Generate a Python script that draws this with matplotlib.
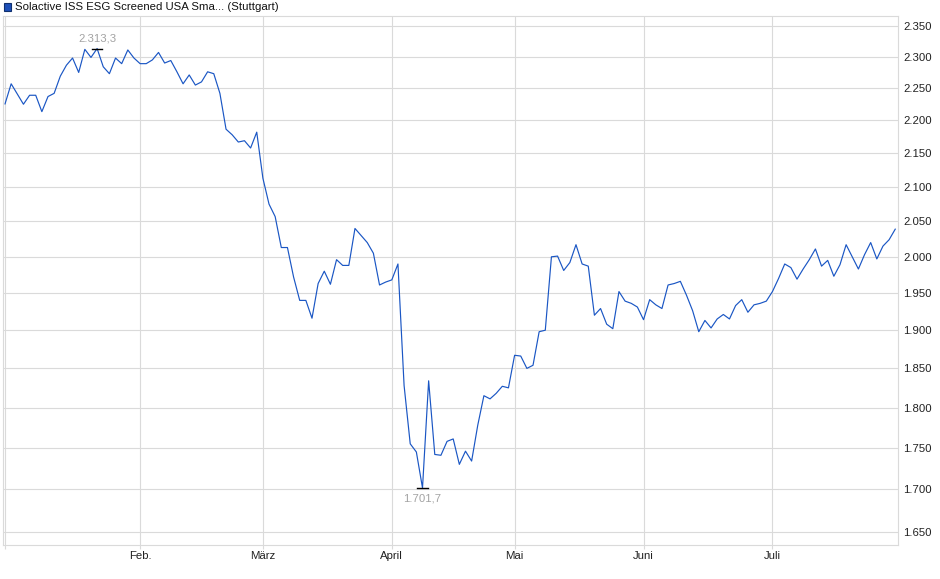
import numpy as np
import matplotlib
matplotlib.use("Agg")
import matplotlib.pyplot as plt
from matplotlib.patches import Rectangle
from matplotlib.ticker import FixedLocator, FuncFormatter, NullLocator

plt.rcParams['font.family'] = ['Liberation Sans', 'DejaVu Sans']

# daily closes (trading days, Jan 2 .. end of July)
values = [
    2225.5, 2257, 2241, 2225, 2239, 2239, 2213.5, 2237, 2242, 2269,
    2286.5, 2298, 2275, 2312, 2299, 2313.3, 2284, 2273, 2298, 2289,
    2311, 2298, 2289, 2289, 2295, 2307, 2290, 2294, 2276, 2257,
    2271, 2255, 2260, 2276, 2273, 2242, 2186.5, 2178, 2167, 2169,
    2158, 2182, 2113, 2075, 2057, 2013, 2013, 1972, 1940, 1940,
    1916, 1963, 1980, 1962, 1996, 1988, 1988, 2040, 2030, 2020,
    2005, 1961, 1965, 1968, 1990, 1828, 1755, 1745, 1701.7, 1834,
    1742, 1741, 1758, 1761, 1730, 1746, 1734, 1778, 1815, 1811,
    1818, 1827, 1825, 1867, 1866, 1850, 1854, 1898, 1900, 2000,
    2001, 1981, 1992, 2017, 1990, 1987, 1920, 1929, 1908, 1902,
    1952, 1939, 1936, 1931, 1914, 1941, 1934, 1929, 1961, 1963,
    1966, 1947, 1926, 1898, 1913, 1903, 1915, 1921, 1915, 1933,
    1941, 1924, 1934, 1936, 1939, 1952, 1970, 1990, 1985, 1969,
    1983, 1996, 2011, 1987, 1995, 1973, 1989, 2017, 2000, 1983,
    2003, 2020, 1997, 2015, 2024, 2039,
]

month_labels = ['Feb.', 'März', 'April', 'Mai', 'Juni', 'Juli']
month_index = [22, 42, 63, 83, 104, 125]   # first trading day of each month
y_ticks = [1650, 1700, 1750, 1800, 1850, 1900, 1950, 2000, 2050, 2100,
           2150, 2200, 2250, 2300, 2350]
title = 'Solactive ISS ESG Screened USA Sma... (Stuttgart)'

line_color = '#1a56c4'
grid_color = '#dadada'


def de_int(v, pos=None):
    return f'{v:,.0f}'.replace(',', '.')


def de_dec(v):
    return f'{v:,.1f}'.replace(',', '#').replace('.', ',').replace('#', '.')


W, H = 940, 579
fig = plt.figure(figsize=(W / 100, H / 100), dpi=100)
ax = fig.add_axes([3 / W, (H - 545) / H, 895 / W, 529 / H])

x = np.arange(len(values))
ax.plot(x, values, color=line_color, lw=0.85)

ax.set_yscale('log')
ax.set_ylim(1635.2, 2366.5)
ax.set_xlim(-0.33, 145.45)

ax.yaxis.set_major_locator(FixedLocator(y_ticks))
ax.yaxis.set_major_formatter(FuncFormatter(de_int))
ax.yaxis.set_minor_locator(NullLocator())
ax.yaxis.tick_right()
ax.tick_params(axis='y', length=0, pad=4, labelsize=8.2, labelcolor='#222222')

ax.set_xticks([0] + month_index)
ax.set_xticklabels([''] + month_labels)
ax.tick_params(axis='x', length=3, color=grid_color, pad=1, labelsize=8.2,
               labelcolor='#222222')

ax.grid(True, color=grid_color, lw=0.8)
ax.set_axisbelow(True)
for s in ax.spines.values():
    s.set_color(grid_color)
    s.set_linewidth(0.8)

# max / min markers
imax = int(np.argmax(values))
imin = int(np.argmin(values))
for i, off, va in [(imax, 3.5, 'bottom'), (imin, -4, 'top')]:
    v = values[i]
    ax.plot([i - 0.85, i + 0.85], [v, v], color='black', lw=1.0)
    ax.annotate(de_dec(v), (i, v), xytext=(0, off), textcoords='offset points',
                ha='center', va=va, fontsize=8.2, color='#a3a3a3')

# legend box
fig.add_artist(Rectangle((4 / W, 1 - 10.5 / H), 7 / W, 7 / H,
                         transform=fig.transFigure, facecolor='#1d4fb8',
                         edgecolor='#10306e', lw=0.8))
fig.text(15 / W, 1 - 7 / H, title, ha='left', va='center', fontsize=8.2,
         color='#111111')

fig.savefig('out.png', dpi=100)
